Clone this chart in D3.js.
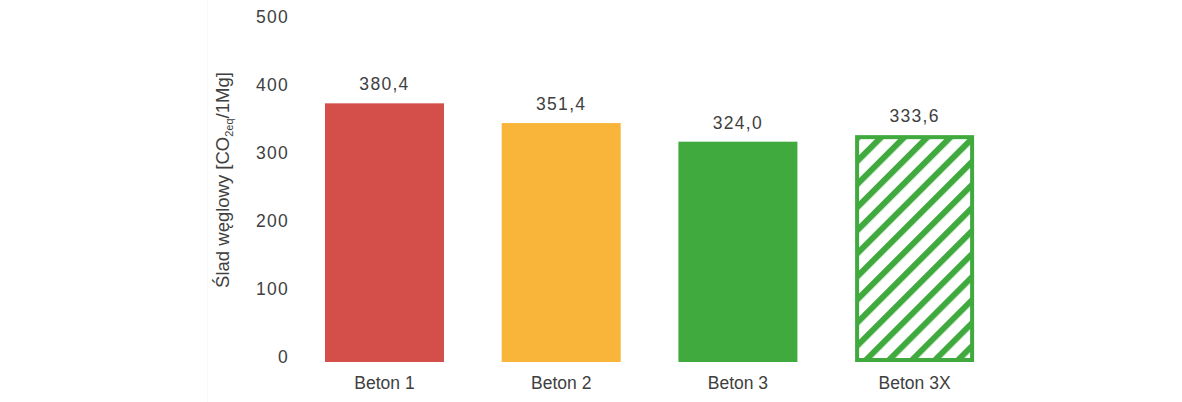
<!DOCTYPE html>
<html><head><meta charset="utf-8">
<script src="https://cdn.jsdelivr.net/npm/d3@7"></script>
<style>
html,body{margin:0;padding:0;background:#fff;}
svg{display:block;font-family:"Liberation Sans",Arial,sans-serif;}
</style></head>
<body>
<svg id="chart" width="1182" height="402"></svg>
<script>
const categories = ["Beton 1", "Beton 2", "Beton 3", "Beton 3X"];
const values = [380.4, 351.4, 324.0, 333.6];
const valueLabels = ["380,4", "351,4", "324,0", "333,6"];
const colors = ["#d54f4a", "#f8b53a", "#40aa3f", "#40aa3f"];
const hatched = [false, false, false, true];
const yTicks = [0, 100, 200, 300, 400, 500];

const svg = d3.select("#chart");
const textColor = "#404040";

const x = d3.scaleBand().domain(categories).range([267.3, 1031.8]).padding(0.3265);
const y = d3.scaleLinear().domain([0, 500]).range([362, 22]);

// pattern
const defs = svg.append("defs");
const pat = defs.append("pattern").attr("id", "hatch")
  .attr("patternUnits", "userSpaceOnUse").attr("width", 16.3).attr("height", 16.3)
  .attr("patternTransform", "rotate(45)");
pat.append("rect").attr("width", 16.3).attr("height", 16.3).attr("fill", "#fff");
pat.append("rect").attr("width", 6).attr("height", 16.3).attr("fill", "#40aa3f");

// faint vertical line
svg.append("line").attr("x1", 207.5).attr("x2", 207.5).attr("y1", 0).attr("y2", 402)
  .attr("stroke", "#f8f8f8").attr("stroke-width", 1);

// y axis labels
const yAxis = d3.axisLeft(y).tickValues(yTicks).tickSize(0).tickPadding(0).tickFormat(d3.format("d"));
const gy = svg.append("g").attr("transform", "translate(289,0)").call(yAxis);
gy.select(".domain").remove();
gy.selectAll("text").attr("fill", textColor).attr("font-size", 17.5)
  .attr("letter-spacing", 1.3)
  .attr("font-family", "Liberation Sans, Arial, sans-serif").attr("y", -5).attr("dy", "0.34em");

// axis title
const title = svg.append("text")
  .attr("transform", "translate(229,180) rotate(-90)")
  .attr("text-anchor", "middle").attr("fill", textColor).attr("font-size", 18.5);
title.append("tspan").text("Ślad węglowy [CO");
title.append("tspan").attr("font-size", 11).attr("dy", 4).text("2eq");
title.append("tspan").attr("dy", -4).text("/1Mg]");

// bars
const data = categories.map((c, i) => ({c, v: values[i], col: colors[i], h: hatched[i], lab: valueLabels[i]}));
svg.selectAll("rect.bar").data(data).enter().append("rect")
  .attr("class", "bar")
  .attr("x", d => d.h ? x(d.c) + 2 : x(d.c))
  .attr("y", d => d.h ? y(d.v) + 2 : y(d.v))
  .attr("width", d => d.h ? x.bandwidth() - 4 : x.bandwidth())
  .attr("height", d => d.h ? y(0) - y(d.v) - 4 : y(0) - y(d.v))
  .attr("fill", d => d.h ? "url(#hatch)" : d.col)
  .attr("stroke", d => d.h ? d.col : "none")
  .attr("stroke-width", d => d.h ? 4 : 0);

// value labels
svg.selectAll("text.val").data(data).enter().append("text")
  .attr("class", "val")
  .attr("x", d => x(d.c) + x.bandwidth() / 2)
  .attr("y", d => y(d.v) - 13)
  .attr("text-anchor", "middle").attr("fill", textColor).attr("font-size", 17.5)
  .attr("letter-spacing", 1.3)
  .text(d => d.lab);

// x axis labels
const xAxis = d3.axisBottom(x).tickSize(0).tickPadding(0);
const gx = svg.append("g").attr("transform", "translate(0,389)").call(xAxis);
gx.select(".domain").remove();
gx.selectAll("text").attr("fill", textColor).attr("font-size", 17.5)
  .attr("font-family", "Liberation Sans, Arial, sans-serif").attr("dy", 0);
</script>
</body></html>
